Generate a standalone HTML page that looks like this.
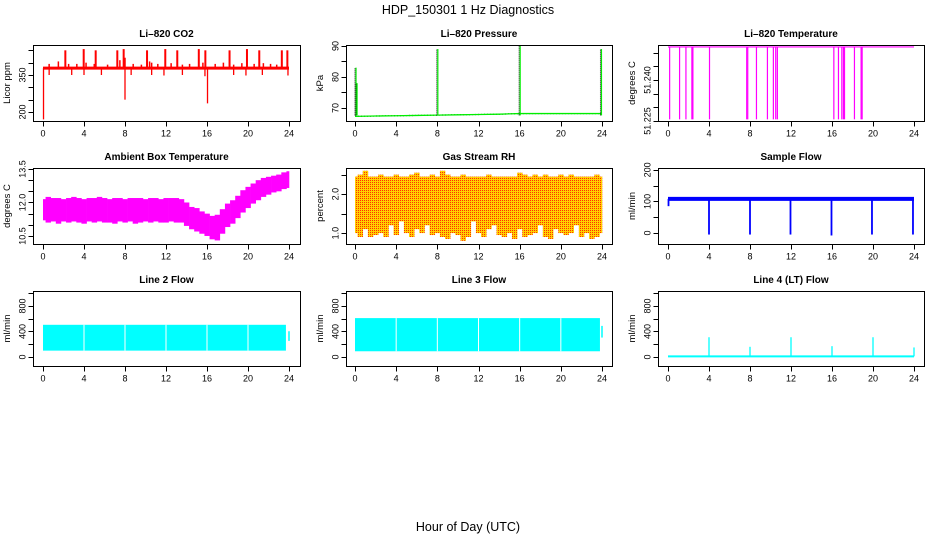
<!DOCTYPE html>
<html><head><meta charset="utf-8"><title>HDP_150301 1 Hz Diagnostics</title>
<style>
html,body{margin:0;padding:0;background:#fff;}
svg{display:block;font-family:"Liberation Sans",sans-serif;}
</style></head>
<body>
<svg id="chart" width="936" height="540" viewBox="0 0 936 540" xmlns="http://www.w3.org/2000/svg">
<defs>
<pattern id="rhpat" width="2" height="2" patternUnits="userSpaceOnUse">
<rect width="2" height="2" fill="#ffd000"/>
<rect width="1" height="1" fill="#ff3000"/>
</pattern>
</defs>
<text x="468" y="14" text-anchor="middle" font-size="12.5">HDP_150301  1 Hz Diagnostics</text>
<text x="468" y="531" text-anchor="middle" font-size="12.5">Hour of Day (UTC)</text>
</svg>
<script>
// ---------- data ----------
const xTicks = [0,4,8,12,16,20,24];
// CO2
const co2Base = 378;
const co2UpTimes = [2.18,3.97,5.14,7.25,7.87,10.15,11.93,13.1,15.2,15.84,18.2,19.9,21.1,23.3,23.84];
const co2UpValues = [450,455,450,450,455,450,455,450,455,450,450,455,450,450,450];
const co2SmallUpTimes = [0.6,1.5,2.5,3.3,4.2,5.0,6.3,7.5,8.0,8.8,9.6,10.4,10.6,11.2,12.5,13.6,14.3,15.6,16.8,17.6,18.6,19.4,20.6,21.5,22.2,22.8];
const co2SmallUpValues = [395,405,395,395,400,395,392,410,420,395,392,405,400,395,398,392,395,400,395,400,392,398,395,398,395,392];
const co2DownTimes = [0.05,0.6,2.8,4.0,5.7,8.0,8.6,10.6,11.8,13.6,15.8,16.05,18.6,19.8,21.4,23.9];
const co2DownValues = [170,350,350,350,350,250,350,350,348,350,345,235,350,348,350,348];
// Pressure
const presTimes = [0,2,4,6,8,10,12,14,16,18,20,22,24];
const presValues = [67.3,67.4,67.5,67.6,67.7,67.8,67.9,68.0,68.2,68.2,68.2,68.2,68.2];
const presSpikeTimes = [0.05,0.15,8.0,16.0,23.9];
const presSpikeValues = [83,78,89,90,89];
// Li-820 temperature
const tempLevel = 51.2521;
const tempDropTimes = [0.16,1.13,1.75,2.33,2.43,4.05,7.68,7.78,8.63,9.7,10.28,10.51,10.67,16.18,16.63,16.96,17.12,17.22,18.19,18.84,18.94];
const tempDropValue = 51.2256;
// Ambient box temperature (half-hour bins 0..24)
const ambMax = [12.15,12.25,12.2,12.2,12.15,12.2,12.25,12.2,12.15,12.2,12.2,12.25,12.2,12.15,12.2,12.2,12.15,12.2,12.2,12.2,12.15,12.2,12.2,12.15,12.2,12.2,12.2,12.15,12.0,11.8,11.75,11.6,11.5,11.4,11.45,11.7,11.95,12.1,12.3,12.55,12.7,12.85,13.0,13.1,13.15,13.2,13.25,13.35,13.4];
const ambMin = [11.2,11.1,11.15,11.05,11.15,11.1,11.15,11.1,11.05,11.15,11.1,11.15,11.1,11.1,11.05,11.15,11.1,11.15,11.05,11.1,11.15,11.1,11.15,11.1,11.1,11.15,11.1,11.1,10.95,10.8,10.7,10.6,10.5,10.35,10.3,10.6,10.9,11.05,11.3,11.55,11.75,11.95,12.1,12.25,12.35,12.45,12.5,12.6,12.65];
// Gas stream RH (half-hour bins)
const rhTop = [2.45,2.5,2.6,2.45,2.45,2.5,2.45,2.45,2.5,2.45,2.45,2.5,2.55,2.45,2.45,2.5,2.45,2.6,2.5,2.45,2.45,2.5,2.45,2.45,2.45,2.45,2.5,2.45,2.45,2.45,2.45,2.45,2.55,2.5,2.45,2.5,2.45,2.5,2.45,2.45,2.5,2.45,2.5,2.45,2.45,2.45,2.45,2.5,2.45];
const rhLow = [1.0,0.9,1.1,0.9,0.95,1.0,0.9,1.2,0.95,1.3,1.0,0.9,1.1,1.0,1.2,0.95,1.0,0.9,0.85,1.0,0.95,0.8,0.9,1.3,1.0,0.9,1.1,1.2,0.95,0.9,1.0,0.85,1.1,0.9,0.95,1.0,1.2,0.9,0.85,1.1,1.0,0.95,1.0,1.2,0.9,1.0,0.85,0.9,1.0];
// Sample flow
const sampleBase = 108;
const sampleDropTimes = [0.05,4.0,8.0,11.95,15.95,19.9,23.9];
const sampleDropValues = [85,-5,-5,-5,-8,-5,-5];
// Line 2 / 3 flow
const line2Top = 505, line2Bottom = 100, line2End = 23.7;
const line3Top = 610, line3Bottom = 90, line3End = 23.8;
const flowGapTimes = [4,8,12,16,20];
// Line 4 flow
const line4Base = 10;
const line4SpikeTimes = [4,8,12,16,20,24];
const line4SpikeValues = [310,160,310,170,310,150];

// ---------- layout ----------
const svg = document.getElementById('chart');
const NS = 'http://www.w3.org/2000/svg';
const cols = [{L:33,R:300,x0:43,x1:289},{L:346,R:612,x0:355,x1:602},{L:658,R:924,x0:668,x1:914}];
const rows = [{T:45,B:121},{T:168,B:244},{T:291,B:366}];
function mk(tag, attrs, parent){const e=document.createElementNS(NS,tag);for(const k in attrs)e.setAttribute(k,attrs[k]);(parent||svg).appendChild(e);return e;}

function panel(name, title, ci, ri, ymin, ymax, yTicks, yLabels, yTitle){
  const c=cols[ci], r=rows[ri];
  const g=mk('g',{});
  
  
  const sx=v=>c.x0+(v-0)/(24-0)*(c.x1-c.x0);
  const sy=v=>r.B-(v-ymin)/(ymax-ymin)*(r.B-r.T);
  const plot=mk('g',{},g);
  
  
  const frame=mk('rect',{x:c.L+0.5,y:r.T+0.5,width:c.R-c.L,height:r.B-r.T,fill:'none',stroke:'#000','stroke-width':1},g);
  
  
  const t=mk('text',{x:(c.L+c.R)/2,y:r.T-8,'text-anchor':'middle','font-size':10,'font-weight':'bold'},g);
  t.textContent=title;
  
  
  // x axis
  const xa=mk('g',{},g);
  
  
  const ay=r.B+0.5;
  xTicks.forEach(v=>{
    const x=Math.round(sx(v))+0.5;
    mk('line',{x1:x,x2:x,y1:ay,y2:ay+5,stroke:'#000'},xa);
    const tl=mk('text',{x:sx(v),y:ay+15,'text-anchor':'middle','font-size':9},xa);
    tl.textContent=v;
    
    
  });
  // y axis
  const ya=mk('g',{},g);
  
  
  const ax=c.L+0.5;
  yTicks.forEach((v,i)=>{
    const y=Math.round(sy(v))+0.5;
    mk('line',{x1:ax-5,x2:ax,y1:y,y2:y,stroke:'#000'},ya);
    if(yLabels[i]!==''){
      const yl=mk('text',{x:ax-8,y:sy(v),'text-anchor':'middle','font-size':9,transform:`rotate(-90 ${ax-8} ${sy(v)})`},ya);
      yl.textContent=yLabels[i];
      
      
    }
  });
  const yt=mk('text',{x:c.L-23,y:(r.T+r.B)/2,'text-anchor':'middle','font-size':9.5,transform:`rotate(-90 ${c.L-23} ${(r.T+r.B)/2})`},ya);
  yt.textContent=yTitle;
  
  
  return {sx,sy,plot};
}
function vline(p,x,y1,y2,col,w){return mk('line',{x1:x,x2:x,y1:y1,y2:y2,stroke:col,'stroke-width':w||1},p);}

// CO2
(function(){
  const P=panel('co2','Li\u2013820 CO2',0,0,163.5,471.6,[200,250,300,350,400,450],['200','','','350','',''],'Licor ppm');
  const b=P.sy(co2Base);
  co2SmallUpTimes.forEach((t,i)=>vline(P.plot,P.sx(t),b,P.sy(co2SmallUpValues[i]),'#ff0000',1.5));
  co2UpTimes.forEach((t,i)=>vline(P.plot,P.sx(t),b,P.sy(co2UpValues[i]),'#ff0000',2));
  co2DownTimes.forEach((t,i)=>vline(P.plot,P.sx(t),b,P.sy(co2DownValues[i]),'#ff0000',1.3));
  const base=mk('line',{x1:P.sx(0),x2:P.sx(24),y1:b,y2:b,stroke:'#ff0000','stroke-width':3},P.plot);
  
  
})();
// Pressure
(function(){
  const P=panel('pressure','Li\u2013820 Pressure',1,0,65.8,90.3,[70,75,80,85,90],['70','','80','','90'],'kPa');
  const pts=presTimes.map((t,i)=>P.sx(t)+','+P.sy(presValues[i])).join(' ');
  mk('polyline',{points:pts,fill:'none',stroke:'#000','stroke-width':1.2,'stroke-dasharray':'1,2'},P.plot);
  const pl=mk('polyline',{points:pts,fill:'none',stroke:'#00ee00','stroke-width':1.3},P.plot);
  
  
  presSpikeTimes.forEach((t,i)=>{
    const base=P.sy(67.6);
    vline(P.plot,P.sx(t)-0.5,base,P.sy(presSpikeValues[i]),'#000',1).setAttribute('stroke-dasharray','1,1');
    vline(P.plot,P.sx(t)+0.5,base,P.sy(presSpikeValues[i]),'#00ee00',1.2);
  });
})();
// Li-820 temperature
(function(){
  const P=panel('li820-temp','Li\u2013820 Temperature',2,0,51.225,51.2528,[51.225,51.230,51.235,51.240,51.245,51.250],['51.225','','','51.240','',''],'degrees C');
  const l=mk('line',{x1:P.sx(0),x2:P.sx(24),y1:P.sy(tempLevel),y2:P.sy(tempLevel),stroke:'#ff00ff','stroke-width':1.2},P.plot);
  
  
  tempDropTimes.forEach(t=>vline(P.plot,P.sx(t),P.sy(tempLevel),P.sy(tempDropValue),'#ff00ff',1.2));
})();
// Ambient box temperature
(function(){
  const P=panel('ambient-temp','Ambient Box Temperature',0,1,10.14,13.545,[10.5,11,11.5,12,12.5,13,13.5],['10.5','','','12.0','','','13.5'],'degrees C');
  ambMax.forEach((v,i)=>{
    const t0=Math.max(0,i*0.5-0.25), t1=Math.min(24,i*0.5+0.25);
    const r=mk('rect',{x:P.sx(t0),width:P.sx(t1)-P.sx(t0)+0.3,y:P.sy(v),height:P.sy(ambMin[i])-P.sy(v),fill:'#ff00ff'},P.plot);
    
    
  });
})();
// RH
(function(){
  const P=panel('gas-rh','Gas Stream RH',1,1,0.72,2.67,[1.0,1.5,2.0,2.5],['1.0','','2.0',''],'percent');
  rhTop.forEach((v,i)=>{
    const t0=Math.max(0,i*0.5-0.25), t1=Math.min(24,i*0.5+0.25);
    const r=mk('rect',{x:P.sx(t0),width:P.sx(t1)-P.sx(t0)+0.3,y:P.sy(v),height:P.sy(rhLow[i])-P.sy(v),fill:'url(#rhpat)'},P.plot);
    
    
  });
})();
// Sample flow
(function(){
  const P=panel('sample-flow','Sample Flow',2,1,-35,206,[0,50,100,150,200],['0','','100','','200'],'ml/min');
  const b=P.sy(sampleBase);
  const l=mk('line',{x1:P.sx(0),x2:P.sx(24),y1:b,y2:b,stroke:'#0000ff','stroke-width':4},P.plot);
  
  
  sampleDropTimes.forEach((t,i)=>vline(P.plot,P.sx(t),b,P.sy(sampleDropValues[i]),'#0000ff',1.8));
})();
// Line 2 / 3 flow
function blockFlow(name,title,ci,top,bot,end){
  const P=panel(name,title,ci,2,-141,1035,[0,200,400,600,800,1000],['0','','400','','800',''],'ml/min');
  const r=mk('rect',{x:P.sx(0),y:P.sy(top),width:P.sx(end)-P.sx(0),height:P.sy(bot)-P.sy(top),fill:'#00ffff'},P.plot);
  
  
  flowGapTimes.forEach(t=>vline(P.plot,P.sx(t),P.sy(top),P.sy(bot),'#fff',1));
  vline(P.plot,P.sx(24),P.sy(top*0.8),P.sy(top*0.5),'#00ffff',1.5);
}
blockFlow('line2-flow','Line 2 Flow',0,line2Top,line2Bottom,line2End);
blockFlow('line3-flow','Line 3 Flow',1,line3Top,line3Bottom,line3End);
// Line 4 flow
(function(){
  const P=panel('line4-flow','Line 4 (LT) Flow',2,2,-141,1035,[0,200,400,600,800,1000],['0','','400','','800',''],'ml/min');
  const b=P.sy(line4Base);
  const l=mk('line',{x1:P.sx(0),x2:P.sx(24),y1:b,y2:b,stroke:'#00ffff','stroke-width':2},P.plot);
  
  
  line4SpikeTimes.forEach((t,i)=>vline(P.plot,P.sx(t),b,P.sy(line4SpikeValues[i]),'#00ffff',1.3));
})();
</script>
</body></html>
